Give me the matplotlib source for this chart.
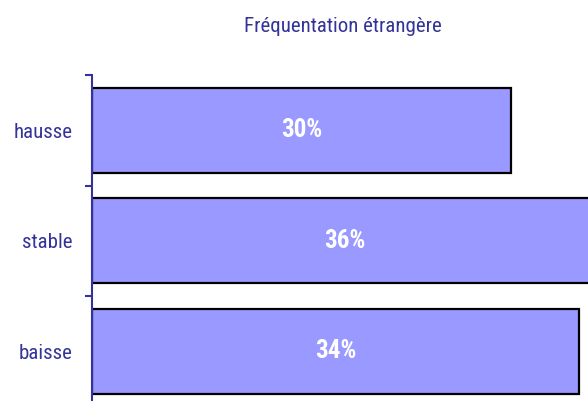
import matplotlib
matplotlib.use("Agg")
import matplotlib.pyplot as plt

# Fréquentation étrangère - share of answers
categories = ["hausse", "stable", "baisse"]
values = [29.7, 35.8, 34.5]
labels = [f"{v:.0f}%" for v in values]

NAVY = "#333399"
BAR = "#9999FF"
narrow = ["Roboto Condensed", "Liberation Sans", "DejaVu Sans"]

fig = plt.figure(figsize=(5.88, 4.01), dpi=100)
ax = fig.add_axes([92 / 588, 1 - 406.5 / 401, 1 - 92 / 588, 331.5 / 401])

y = range(len(categories))
ax.barh(y, values, height=0.77, color=BAR, edgecolor="black", linewidth=1.6)
for yi, v, lab in zip(y, values, labels):
    ax.text(v / 2, yi, lab, ha="center", va="center", color="white",
            fontsize=18, fontweight="bold", family=narrow)

ax.set_xlim(0, 496 / 14.12)
ax.set_ylim(len(categories) - 0.5, -0.5)
ax.set_yticks(list(y))
ax.set_yticklabels(categories, family=narrow, fontsize=15, color=NAVY)
ax.set_yticks([-0.5, 0.5, 1.5, 2.5], minor=True)
ax.tick_params(axis="y", which="major", length=0, pad=14)
ax.tick_params(axis="y", which="minor", length=5, width=1.5, color=NAVY)
ax.set_xticks([])
for s in ["top", "right", "bottom"]:
    ax.spines[s].set_visible(False)
ax.spines["left"].set_color(NAVY)
ax.spines["left"].set_linewidth(1.5)

fig.text(343 / 588, 1 - 27 / 401, "Fréquentation étrangère", ha="center",
         va="center", color=NAVY, fontsize=15, family=narrow)

fig.savefig("out.png", dpi=100)
